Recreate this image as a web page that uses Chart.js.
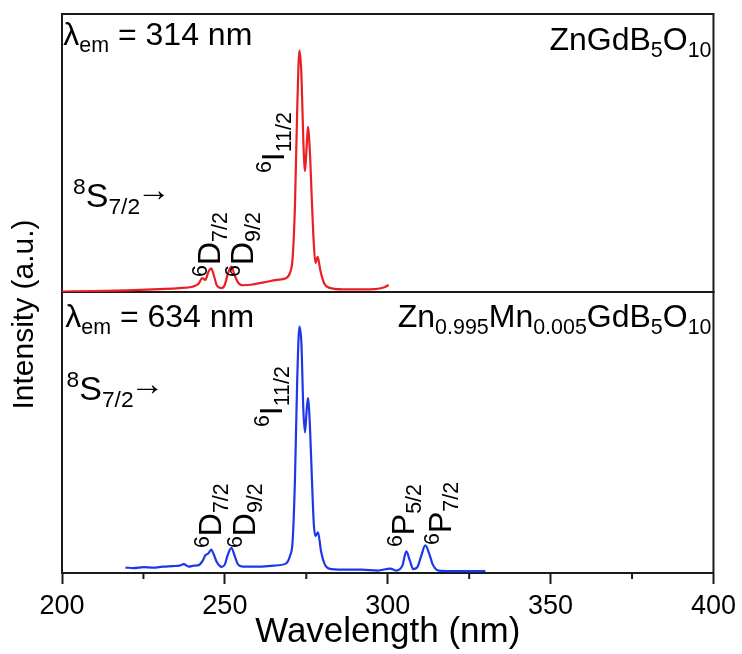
<!DOCTYPE html>
<html>
<head>
<meta charset="utf-8">
<title>Excitation spectra</title>
<script src="https://cdn.jsdelivr.net/npm/chart.js"></script>
<style>
  body { margin: 0; background: #fff; }
  #wrap { width: 742px; height: 654px; position: relative; }
</style>
</head>
<body>
<div id="wrap"><canvas id="myChart"></canvas></div>
<script>
// ZnGdB5O10, lambda_em = 314 nm (top panel)
const redWl = [200, 210, 220, 230, 236, 240, 242, 243, 244, 245, 245.8, 246.8, 247.6, 249, 250, 250.8, 252, 253, 254, 255.5,
  258, 262, 266, 268.7, 270, 270.8, 271.5, 272.2, 272.9, 273.5, 274.1, 274.6, 275.1, 275.5, 276.1, 276.7, 277.3, 277.8,
  278.5, 279.3, 280.5, 282, 286, 292, 296, 299, 300.3];
const redInt = [0.002, 0.004, 0.007, 0.012, 0.016, 0.022, 0.035, 0.058, 0.05, 0.085, 0.098, 0.06, 0.025, 0.016, 0.03, 0.07, 0.105, 0.07, 0.04, 0.028,
  0.03, 0.04, 0.05, 0.057, 0.08, 0.14, 0.35, 0.75, 1.0, 0.9, 0.62, 0.5, 0.6, 0.683, 0.58, 0.38, 0.2, 0.12,
  0.145, 0.09, 0.035, 0.018, 0.011, 0.011, 0.012, 0.02, 0.029];

// Zn0.995Mn0.005GdB5O10, lambda_em = 634 nm (bottom panel)
const blueWl = [219.5, 222, 225, 228, 231, 234, 236, 237.4, 238.9, 240.5, 242, 243.2, 244, 245, 245.8, 246.6, 247.5, 249, 250, 250.8,
  252, 253, 254, 255.5, 260, 265, 268.7, 270, 270.8, 271.5, 272.2, 272.9, 273.5, 274.1, 274.6, 275.1, 275.5, 276.1, 276.7,
  277.3, 277.8, 278.6, 279.5, 280.5, 282, 286, 292, 297, 300.8, 302.5, 304.5, 305.7, 306.8, 307.8, 309, 310.3, 311.5,
  312.7, 313.8, 315.6, 320, 325, 330];
const blueInt = [0.022, 0.02, 0.024, 0.022, 0.026, 0.028, 0.03, 0.036, 0.026, 0.03, 0.032, 0.05, 0.072, 0.08, 0.095, 0.075, 0.045, 0.025, 0.035, 0.07,
  0.102, 0.07, 0.035, 0.026, 0.026, 0.03, 0.038, 0.07, 0.13, 0.37, 0.78, 1.0, 0.93, 0.66, 0.57, 0.66, 0.71, 0.6, 0.39,
  0.2, 0.15, 0.165, 0.09, 0.04, 0.018, 0.014, 0.014, 0.01, 0.018, 0.01, 0.03, 0.088, 0.05, 0.016, 0.022, 0.07, 0.112,
  0.08, 0.035, 0.01, 0.008, 0.008, 0.008];

const xMin = 200, xMax = 400, xStep = 50;
const minorTicks = [225, 275, 325, 375];

// annotations: panel, wavelength, intensity, text parts
const notes = [
  { panel: 'yTop', wl: 200.4, v: 1.022, parts: [['λ', 'n'], ['em', 'sub'], [' = 314 nm', 'n']] },
  { panel: 'yTop', wl: 399.4, v: 1.001, align: 'right', parts: [['ZnGdB', 'n'], ['5', 'sub'], ['O', 'n'], ['10', 'sub']] },
  { panel: 'yTop', wl: 203.4, v: 0.353, size: 34, parts: [['8', 'sup'], ['S', 'n'], ['7/2', 'sub'], ['→', 'arr']] },
  { panel: 'yTop', wl: 248.4, v: 0.062, rot: true, parts: [['6', 'sup'], ['D', 'n'], ['7/2', 'sub']] },
  { panel: 'yTop', wl: 258.5, v: 0.062, rot: true, parts: [['6', 'sup'], ['D', 'n'], ['9/2', 'sub']] },
  { panel: 'yTop', wl: 268.0, v: 0.492, rot: true, parts: [['6', 'sup'], ['I', 'n'], ['11/2', 'sub']] },
  { panel: 'yBot', wl: 201.0, v: 0.999, parts: [['λ', 'n'], ['em', 'sub'], [' = 634 nm', 'n']] },
  { panel: 'yBot', wl: 399.4, v: 0.999, align: 'right', parts: [['Zn', 'n'], ['0.995', 'sub'], ['Mn', 'n'], ['0.005', 'sub'], ['GdB', 'n'], ['5', 'sub'], ['O', 'n'], ['10', 'sub']] },
  { panel: 'yBot', wl: 201.4, v: 0.702, size: 34, parts: [['8', 'sup'], ['S', 'n'], ['7/2', 'sub'], ['→', 'arr']] },
  { panel: 'yBot', wl: 248.9, v: 0.101, rot: true, parts: [['6', 'sup'], ['D', 'n'], ['7/2', 'sub']] },
  { panel: 'yBot', wl: 259.1, v: 0.101, rot: true, parts: [['6', 'sup'], ['D', 'n'], ['9/2', 'sub']] },
  { panel: 'yBot', wl: 267.4, v: 0.592, rot: true, parts: [['6', 'sup'], ['I', 'n'], ['11/2', 'sub']] },
  { panel: 'yBot', wl: 308.1, v: 0.105, rot: true, parts: [['6', 'sup'], ['P', 'n'], ['5/2', 'sub']] },
  { panel: 'yBot', wl: 319.4, v: 0.114, rot: true, parts: [['6', 'sup'], ['P', 'n'], ['7/2', 'sub']] }
];

const FONT = '"Liberation Sans", Arial, sans-serif';

function partStyle(kind, size) {
  if (kind === 'sub') return { s: size * 0.67, dy: size * 0.22, dx: 0 };
  if (kind === 'sup') return { s: size * 0.67, dy: -size * 0.38, dx: 0 };
  if (kind === 'arr') return { s: size * 1.0, dy: -size * 0.16, dx: -size * 0.1 };
  return { s: size, dy: 0, dx: 0 };
}

function drawRich(ctx, parts, x, y, size, rot, align) {
  ctx.save();
  ctx.translate(x, y);
  if (rot) ctx.rotate(-Math.PI / 2);
  ctx.textBaseline = 'alphabetic';
  ctx.textAlign = 'left';
  ctx.fillStyle = '#000';
  let w = 0;
  for (const [t, k] of parts) {
    ctx.font = partStyle(k, size).s + 'px ' + FONT;
    w += ctx.measureText(t).width;
  }
  let cx = align === 'right' ? -w : 0;
  for (const [t, k] of parts) {
    const st = partStyle(k, size);
    ctx.font = st.s + 'px ' + FONT;
    ctx.fillText(t, cx + st.dx, st.dy);
    cx += ctx.measureText(t).width;
  }
  ctx.restore();
}

const panelPlugin = {
  id: 'panels',
  beforeDatasetsDraw(chart) {
    const { ctx, chartArea, scales } = chart;
    ctx.save();
    ctx.strokeStyle = '#1a1a1a';
    ctx.lineWidth = 2;
    for (const id of ['yTop', 'yBot']) {
      const s = scales[id];
      ctx.strokeRect(chartArea.left, s.top, chartArea.right - chartArea.left, s.bottom - s.top);
    }
    ctx.beginPath();
    for (const v of minorTicks) {
      const px = scales.x.getPixelForValue(v);
      ctx.moveTo(px, chartArea.bottom);
      ctx.lineTo(px, chartArea.bottom + 6);
    }
    ctx.stroke();
    ctx.restore();
  },
  afterDraw(chart) {
    const { ctx, chartArea, scales } = chart;
    for (const n of notes) {
      const px = scales.x.getPixelForValue(n.wl);
      const py = scales[n.panel].getPixelForValue(n.v);
      drawRich(ctx, n.parts, px, py, n.size || 32, n.rot, n.align);
    }
    // shared y title
    ctx.save();
    ctx.translate(33, (chartArea.top + chartArea.bottom) / 2 + 21);
    ctx.rotate(-Math.PI / 2);
    ctx.font = '30px ' + FONT;
    ctx.fillStyle = '#000';
    ctx.textAlign = 'center';
    ctx.textBaseline = 'alphabetic';
    ctx.fillText('Intensity (a.u.)', 0, 0);
    ctx.restore();
  }
};

const toPoints = (xs, ys) => xs.map((x, i) => ({ x: x, y: ys[i] }));

const hiddenY = (weight, max) => ({
  type: 'linear',
  position: 'left',
  stack: 'panels',
  stackWeight: weight,
  min: 0,
  max: max,
  grid: { display: false },
  border: { display: false },
  ticks: { display: false },
  afterFit: s => { s.width = 0; }
});

const ctx = document.getElementById('myChart').getContext('2d');
const myChart = new Chart(ctx, {
  type: 'line',
  data: {
    datasets: [
      {
        label: 'ZnGdB5O10',
        data: toPoints(redWl, redInt),
        yAxisID: 'yTop',
        borderColor: 'rgb(235, 30, 35)',
        borderWidth: 2.2,
        pointRadius: 0,
        tension: 0.35,
        cubicInterpolationMode: 'monotone'
      },
      {
        label: 'Zn0.995Mn0.005GdB5O10',
        data: toPoints(blueWl, blueInt),
        yAxisID: 'yBot',
        borderColor: 'rgb(30, 55, 235)',
        borderWidth: 2.2,
        pointRadius: 0,
        tension: 0.35,
        cubicInterpolationMode: 'monotone'
      }
    ]
  },
  options: {
    responsive: true,
    maintainAspectRatio: false,
    animation: false,
    events: [],
    layout: { padding: { left: 62, right: 27, top: 14, bottom: 0 } },
    plugins: { legend: { display: false }, tooltip: { enabled: false } },
    scales: {
      x: {
        type: 'linear',
        min: xMin,
        max: xMax,
        grid: { display: true, drawOnChartArea: false, tickLength: 11, tickWidth: 2, tickColor: '#1a1a1a' },
        border: { display: true, color: '#1a1a1a', width: 2 },
        ticks: {
          stepSize: xStep,
          color: '#000',
          padding: 6,
          maxRotation: 0,
          font: { family: FONT, size: 27 }
        },
        title: {
          display: true,
          text: 'Wavelength (nm)',
          color: '#000',
          font: { family: FONT, size: 35 },
          padding: { top: 0, bottom: 1 }
        },
        afterFit: s => { s.height = 81; }
      },
      // the stack places the later scale on top
      yBot: hiddenY(281, 1.14),
      yTop: hiddenY(278, 1.15)
    }
  },
  plugins: [panelPlugin]
});
</script>
</body>
</html>
